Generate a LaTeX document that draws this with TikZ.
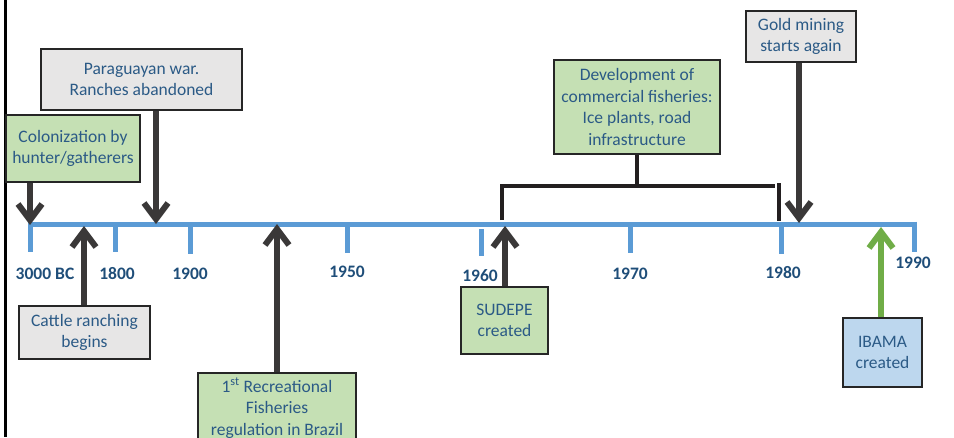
\documentclass[tikz,border=0pt]{standalone}
\usepackage{fontspec}
\setmainfont{Carlito}
\usetikzlibrary{arrows.meta}
\definecolor{tlblue}{HTML}{5B9BD5}
\definecolor{txtblue}{HTML}{2B5A86}
\definecolor{yearblue}{HTML}{1F4E79}
\definecolor{arrgray}{HTML}{3A3838}
\definecolor{brk}{HTML}{231F20}
\definecolor{boxline}{HTML}{262626}
\definecolor{gfill}{HTML}{C5E0B4}
\definecolor{grayfill}{HTML}{E7E6E6}
\definecolor{bfill}{HTML}{BDD7EE}
\definecolor{garr}{HTML}{70AD47}
\begin{document}
\begin{tikzpicture}[x=1pt,y=-1pt,
  box/.style={draw=boxline, line width=1.3pt, align=center, inner sep=0pt,
    font=\fontsize{17.5}{21.5}\selectfont, text=txtblue},
  greenbox/.style={box, fill=gfill},
  graybox/.style={box, fill=grayfill},
  bluebox/.style={box, fill=bfill},
  arr/.style={line width=6pt, draw=arrgray, -{Straight Barb[length=16pt,width=24pt]}},
  garrow/.style={arr, draw=garr},
  tl/.style={line width=5pt, draw=tlblue},
  year/.style={font=\bfseries\fontsize{17.5}{19}\selectfont, text=yearblue},
  brack/.style={line width=4pt, draw=brk}]
\useasboundingbox (0,0) rectangle (954,437);
\clip (0,0) rectangle (954,437);

% left frame line
\draw[line width=3pt, black] (5,0) -- (5,437);

% timeline
\draw[tl] (28,224) -- (917,224);
\draw[tl] (30.5,224) -- (30.5,252);
\draw[tl] (115.5,227) -- (115.5,252);
\draw[tl] (190,227) -- (190,254);
\draw[tl] (347,227) -- (347,253);
\draw[tl] (481.5,229) -- (481.5,256);
\draw[tl] (630,227) -- (630,253);
\draw[tl] (781.5,227) -- (781.5,254);
\draw[tl] (914.5,221.5) -- (914.5,252);

% year labels
\node[year] (y3000) at (45,274) {3000 BC};
\node[year] (y1800) at (117,274) {1800};
\node[year] (y1900) at (190,274) {1900};
\node[year] (y1950) at (347,272) {1950};
\node[year] (y1960) at (480,276) {1960};
\node[year] (y1970) at (630,274) {1970};
\node[year] (y1980) at (783,273) {1980};
\node[year] (y1990) at (913,262.5) {1990};

% boxes
\node[greenbox, minimum width=134pt, minimum height=67pt] (colon) at (73,148.5)
  {Colonization by\\hunter/gatherers};
\node[graybox, minimum width=201pt, minimum height=61pt] (para) at (141.5,79.5)
  {Paraguayan war.\\Ranches abandoned};
\node[graybox, minimum width=131pt, minimum height=53pt] (cattle) at (84.5,332.5)
  {Cattle ranching\\begins};
\node[greenbox, minimum width=158pt, minimum height=70pt] (recr) at (277,408)
  {1\textsuperscript{st} Recreational\\Fisheries\\regulation in Brazil};
\node[greenbox, minimum width=87pt, minimum height=67pt] (sudepe) at (504.5,320.5)
  {SUDEPE\\created};
\node[greenbox, minimum width=166pt, minimum height=94pt] (devel) at (637,107)
  {Development of\\commercial fisheries:\\Ice plants, road\\infrastructure};
\node[graybox, minimum width=110pt, minimum height=51pt] (gold) at (801,36.5)
  {Gold mining\\starts again};
\node[bluebox, minimum width=79pt, minimum height=69pt] (ibama) at (882.5,352.5)
  {IBAMA\\created};

% arrow tips on the timeline
\coordinate (tColon) at (30,225);
\coordinate (tPara) at (156,224);
\coordinate (tCattle) at (84,226);
\coordinate (tRecr) at (277,224);
\coordinate (tSud) at (505,226);
\coordinate (tGold) at (799,223);
\coordinate (tIbama) at (881,227);

\draw[arr] (colon.south -| tColon) -- (tColon);
\draw[arr] (para.south -| tPara) -- (tPara);
\draw[arr] (cattle.north -| tCattle) -- (tCattle);
\draw[arr] (recr.north -| tRecr) -- (tRecr);
\draw[arr] (sudepe.north -| tSud) -- (tSud);
\draw[arr] (gold.south -| tGold) -- (tGold);
\draw[garrow] (ibama.north -| tIbama) -- (tIbama);

% bracket
\coordinate (bL) at (502,220);
\coordinate (bR) at (775,186);
\coordinate (bRtop) at (779,183);
\coordinate (bRbot) at (779,221);
\draw[brack] (devel.south) -- (devel.south |- bR);
\draw[brack] (bL) |- (bR);
\draw[brack] (bRtop) -- (bRbot);
\end{tikzpicture}
\end{document}
